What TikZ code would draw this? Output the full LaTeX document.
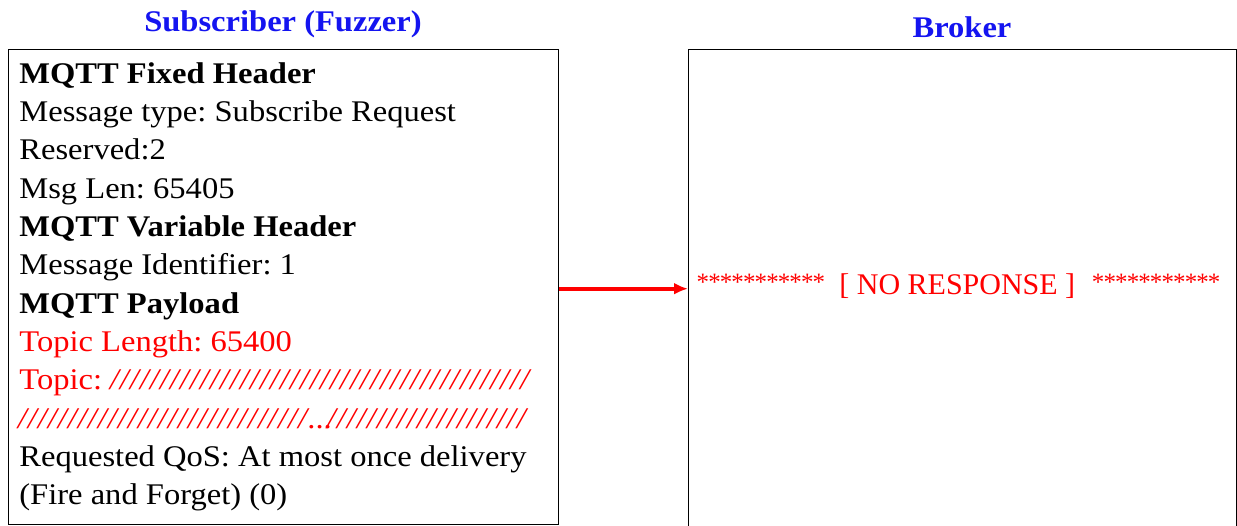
\documentclass[tikz,border=0pt]{standalone}
\usepackage{fontspec}
\setmainfont{Liberation Serif}[FakeStretch=1.085]
\newfontfamily\plainserif{Liberation Serif}
\usetikzlibrary{arrows.meta}
\frenchspacing

\definecolor{headblue}{RGB}{20,20,240}
\definecolor{alertred}{RGB}{255,0,0}

% a run of evenly spaced italic slashes / asterisks
\newcommand\slashrun[1]{\foreach \k in {1,...,#1}{\makebox[5pt][c]{\itshape /}}}
\newcommand\starrun[1]{\foreach \k in {1,...,#1}{\makebox[5.8pt][c]{\raisebox{1.8pt}{\fontsize{12.5}{14}\selectfont *}}}}

\tikzset{
  heading/.style={anchor=base, inner sep=0pt, text=headblue,
    font=\fontsize{15}{18}\selectfont\bfseries},
  frame/.style={draw=black, line width=0.7pt, inner sep=0pt, anchor=north west},
  field/.style={anchor=base west, inner sep=0pt,
    font=\fontsize{15}{18}\selectfont},
  section/.style={field, font=\fontsize{15}{18}\selectfont\bfseries},
  bad/.style={field, text=alertred},
  noresp/.style={anchor=base west, inner sep=0pt, text=alertred,
    font=\fontsize{15}{18}\plainserif},
  sendarrow/.style={draw=alertred, line width=1.8pt,
    -{Latex[length=7pt,width=6pt]}}
}

\begin{document}
\begin{tikzpicture}[x=0.5pt,y=-0.5pt]
  \useasboundingbox (0,0) rectangle (1237,525);
  \begin{scope}
    \clip (0,0) rectangle (1237,525);

    % column headings
    \node[heading] (subhead) at (283,31) {Subscriber (Fuzzer)};
    \node[heading] (brokerhead) at (962,37) {Broker};

    % the two lanes
    \node[frame, minimum width=275pt, minimum height=237.5pt] (sub) at (8,49) {};
    \node[frame, minimum width=274pt, minimum height=241pt] (broker) at (688,49) {};

    % subscribe request fields
    \node[section] (l1) at (19,83) {MQTT Fixed Header};
    \node[field] (l2) at (19,121.3) {Message type: Subscribe Request};
    \node[field] (l3) at (19,159.6) {Reserved:2};
    \node[field] (l4) at (19,198) {Msg Len: 65405};
    \node[section] (l5) at (19,236.3) {MQTT Variable Header};
    \node[field] (l6) at (19,274.6) {Message Identifier: 1};
    \node[section] (l7) at (19,313) {MQTT Payload};
    \node[bad] (l8) at (19,351.3) {Topic Length: 65400};
    \node[bad] (l9) at (19,389.6) {Topic:};
    \node[bad] (l9s) at (109,389.6) {\slashrun{42}};
    \node[bad] (l10a) at (17,428) {\slashrun{29}};
    \node[bad] (l10b) at (307,428) {...};
    \node[bad] (l10c) at (326,428) {\slashrun{20}};
    \node[field] (l11) at (19,466.3) {Requested QoS: At most once delivery};
    \node[field] (l12) at (19,504.6) {(Fire and Forget) (0)};

    % request sent to the broker
    \draw[sendarrow] ([yshift=-0.75pt]sub.east) -- ([yshift=-0.75pt]sub.east -| broker.west);

    % broker outcome
    \node[noresp] (starl) at (696.7,294) {\starrun{11}};
    \node[noresp] (nores) at (839,294) {[ NO RESPONSE ]};
    \node[noresp] (starr) at (1092,294) {\starrun{11}};
  \end{scope}
\end{tikzpicture}
\end{document}
